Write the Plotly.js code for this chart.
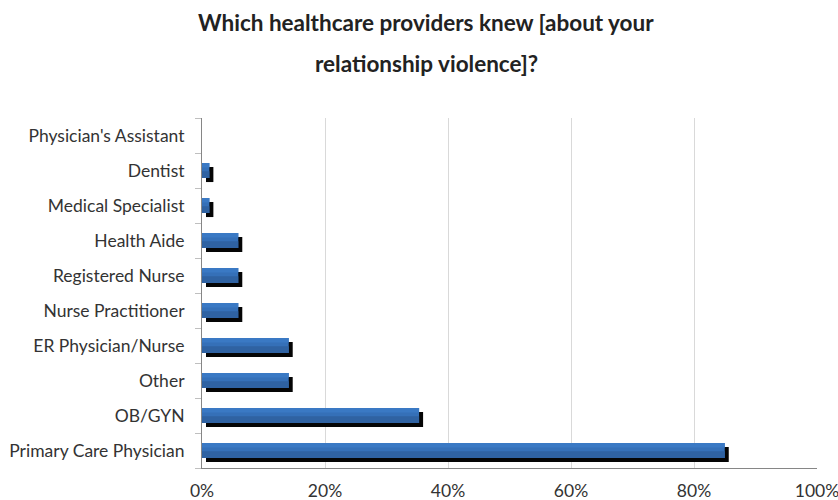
<!DOCTYPE html>
<html><head><meta charset="utf-8">
<script src="https://cdn.plot.ly/plotly-3.0.1.min.js"></script>
<style>body{margin:0;background:#fff}#c{width:838px;height:500px}</style>
</head><body><div id="c"></div>
<script>
// categories listed bottom-to-top
const categories = ["Primary Care Physician","OB/GYN","Other","ER Physician/Nurse","Nurse Practitioner","Registered Nurse","Health Aide","Medical Specialist","Dentist","Physician's Assistant"];
const percentKnew = [85.0, 35.3, 14.1, 14.1, 5.9, 5.9, 5.9, 1.2, 1.2, 0];
const xTickVals = [0,20,40,60,80,100];
const xTickText = ["0%","20%","40%","60%","80%","100%"];

const W = 0.43, SHIFT_Y = 0.115, SHIFT_X = 0.65;
const font = "Lato, 'Open Sans', sans-serif";

const shadow = {type:'bar', orientation:'h', y:categories, x:percentKnew, base:SHIFT_X,
  width:W, offset:-W/2-SHIFT_Y, marker:{color:'#050505', line:{width:0}}, hoverinfo:'skip'};
const main = {type:'bar', orientation:'h', y:categories, x:percentKnew,
  width:W, offset:-W/2, marker:{color:'#3570B8', line:{width:0}}};
const lower = {type:'bar', orientation:'h', y:categories, x:percentKnew,
  width:W*0.45, offset:-W/2, marker:{color:'#2F62A2', line:{width:0}}, hoverinfo:'skip'};
const upper = {type:'bar', orientation:'h', y:categories, x:percentKnew,
  width:W*0.3, offset:W/2-W*0.3, marker:{color:'#3A79C4', line:{width:0}}, hoverinfo:'skip'};

const layout = {
  width:838, height:500, showlegend:false, barmode:'overlay',
  paper_bgcolor:'#fff', plot_bgcolor:'#fff',
  margin:{l:202, r:21, t:117.5, b:31.5},
  font:{family:font, color:'#333', size:17.5},
  xaxis:{range:[0,100], tickvals:xTickVals, ticktext:xTickText, showgrid:true, gridcolor:'#d9d9d9',
    gridwidth:1, zeroline:false, showline:true, linecolor:'#868686', linewidth:1, ticks:'',
    ticklabelstandoff:7, ticklabeloverflow:'allow', tickfont:{family:font, size:17.5, color:'#333'}, fixedrange:true},
  yaxis:{type:'category', categoryorder:'array', categoryarray:categories, range:[-0.5,9.5],
    showline:true, linecolor:'#868686', linewidth:1, ticks:'outside', tickson:'boundaries',
    ticklen:6, tickcolor:'#bfbfbf', showgrid:false, zeroline:false, ticklabelstandoff:13,
    tickfont:{family:font, size:17.5, color:'#333'}, fixedrange:true},
  annotations:[
    {text:'<b>Which healthcare providers knew [about your</b>', xref:'paper', yref:'paper', x:0.5, y:1, yshift:95.5, showarrow:false,
     xanchor:'center', yanchor:'middle', font:{family:font, size:22.5, color:'#222'}},
    {text:'<b>relationship violence]?</b>', xref:'paper', yref:'paper', x:0.5, y:1, yshift:54.5, showarrow:false,
     xanchor:'center', yanchor:'middle', font:{family:font, size:22.5, color:'#222'}}
  ]
};
// title centered at page x ~426
const titleCenter = 426;
layout.annotations.forEach(a => a.x = (titleCenter - layout.margin.l) / (838 - layout.margin.l - layout.margin.r));
Plotly.newPlot('c', [shadow, main, lower, upper], layout, {staticPlot:true});
</script></body></html>
